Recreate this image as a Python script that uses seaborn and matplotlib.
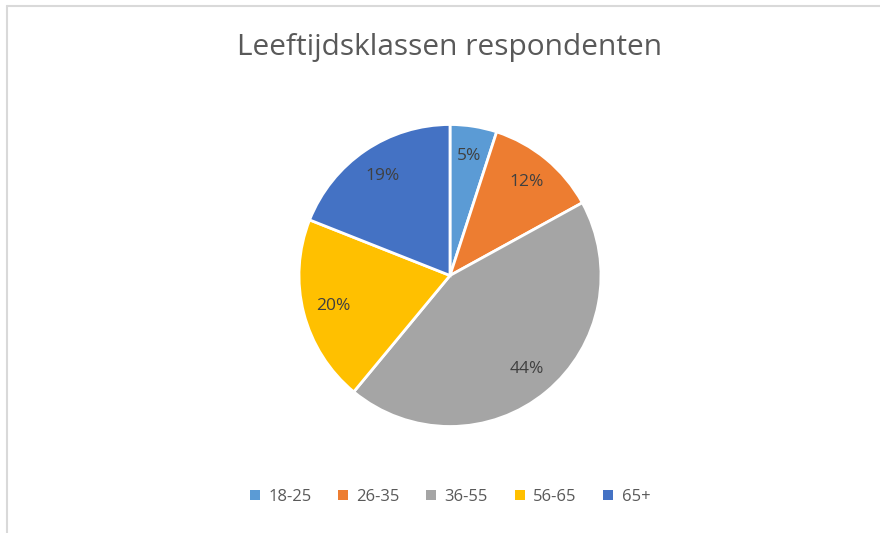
import matplotlib
matplotlib.use("Agg")
from matplotlib import pyplot as plt
from matplotlib.lines import Line2D
from matplotlib.patches import Patch
import seaborn as sns

# data
categories = ["18-25", "26-35", "36-55", "56-65", "65+"]
shares = [5, 12, 44, 20, 19]
colors = ["#5B9BD5", "#ED7D31", "#A5A5A5", "#FFC000", "#4472C4"]

sns.set_theme(style="white")
plt.rcParams["font.family"] = ["Open Sans", "DejaVu Sans"]

fig = plt.figure(figsize=(8.8, 5.33), dpi=100)
fig.patch.set_facecolor("white")

# pie axes: centre (450, 275) px, radius 151 px
W, H = 880, 533
cx, cy, r = 450, 275.5, 151
ax = fig.add_axes([(cx - r) / W, (H - cy - r) / H, 2 * r / W, 2 * r / H])

wedges, texts, autotexts = ax.pie(
    shares, colors=colors, startangle=90, counterclock=False,
    autopct="%1.0f%%", pctdistance=0.8,
    wedgeprops=dict(edgecolor="white", linewidth=2),
    textprops=dict(color="#404040", fontsize=12.5),
)
ax.set_xlim(-1, 1)
ax.set_ylim(-1, 1)
for w in wedges:
    w.set_clip_on(False)

fig.text(cx / W, 1 - 48 / H, "Leeftijdsklassen respondenten",
         ha="center", va="center", fontsize=21.5, color="#595959")

handles = [Patch(facecolor=c, edgecolor="none") for c in colors]
fig.legend(handles, categories, loc="center", bbox_to_anchor=(cx / W, 1 - 497 / H),
           ncol=5, frameon=False, fontsize=12, labelcolor="#595959",
           handlelength=0.6, handleheight=0.6, handletextpad=0.5, columnspacing=1.6)

# chart area border (light grey, top and left visible)
fig.add_artist(Line2D([7 / W, 1], [1 - 6 / H, 1 - 6 / H], color="#D9D9D9", lw=1.5))
fig.add_artist(Line2D([7 / W, 7 / W], [0, 1 - 6 / H], color="#D9D9D9", lw=1.5))

fig.savefig("out.png", dpi=100, facecolor="white")
